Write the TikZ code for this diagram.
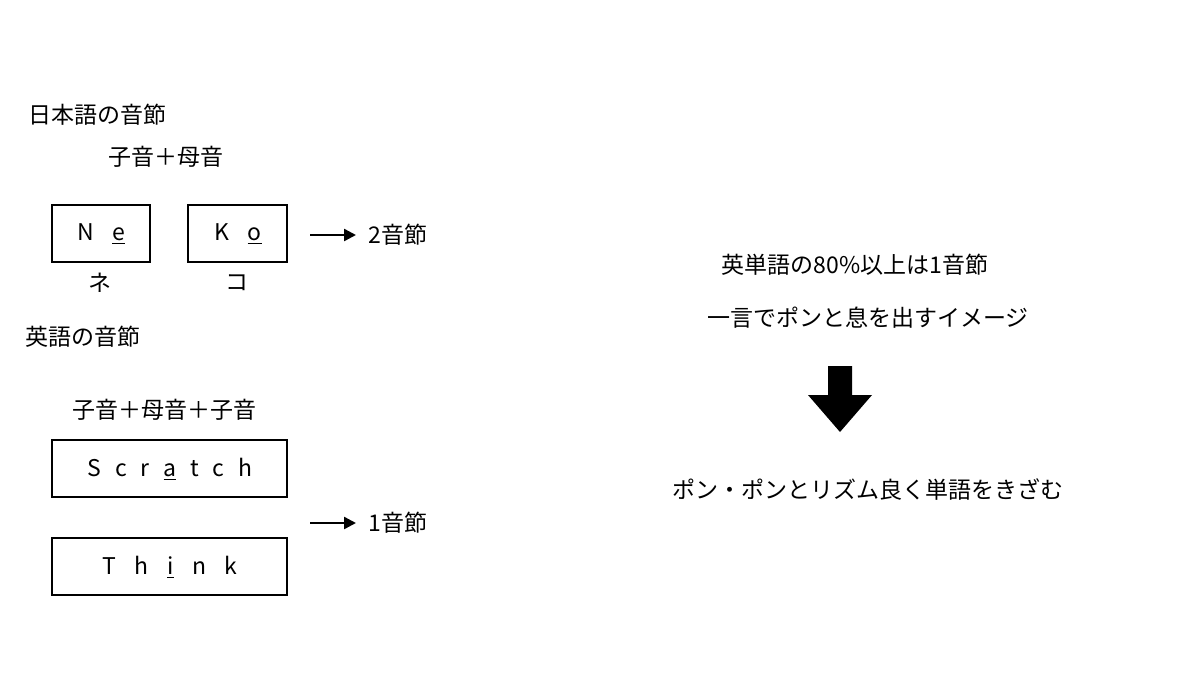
\documentclass[tikz,border=0pt]{standalone}
\usepackage{fontspec}
\setmainfont{Noto Sans CJK JP}
\usetikzlibrary{arrows.meta}
\begin{document}
\begin{tikzpicture}[x=0.5pt,y=-0.5pt,
  lbl/.style={inner sep=0pt,font=\fontsize{11.5}{13}\selectfont},
  box/.style={draw,line width=1.2pt,inner sep=0pt},
  arr/.style={-{Triangle[length=6pt,width=6pt]},line width=1.2pt}]
\useasboundingbox (0,0) rectangle (1200,675);
\node[lbl,anchor=west] (t1) at (28,115) {日本語の音節};
\node[lbl,anchor=west] (t2) at (108,157) {子音＋母音};
\draw[box] (52,205) rectangle (150,262);
\node[lbl] (ne) at (101,234) {N\hspace{0.8em}\underline{e}};
\draw[box] (188,205) rectangle (287,262);
\node[lbl] (ko) at (238,234) {K\hspace{0.8em}\underline{o}};
\coordinate (a1s) at (310,235); \coordinate (a1e) at (356,235);
\draw[arr] (a1s) -- (a1e);
\node[lbl,anchor=west] (s2) at (368,235) {2音節};
\node[lbl] (kne) at (100,283) {ネ};
\node[lbl] (kko) at (237,283) {コ};
\node[lbl,anchor=west] (t3) at (25,337) {英語の音節};
\node[lbl,anchor=west] (t4) at (72,410) {子音＋母音＋子音};
\draw[box] (52,440) rectangle (287,497);
\node[lbl] (sc) at (170,469) {S\hspace{0.6em}c\hspace{0.6em}r\hspace{0.6em}\underline{a}\hspace{0.6em}t\hspace{0.6em}c\hspace{0.6em}h};
\draw[box] (52,538) rectangle (287,595);
\node[lbl] (th) at (170,567) {T\hspace{0.8em}h\hspace{0.8em}\underline{i}\hspace{0.8em}n\hspace{0.8em}k};
\coordinate (a2s) at (310,523); \coordinate (a2e) at (356,523);
\draw[arr] (a2s) -- (a2e);
\node[lbl,anchor=west] (s1) at (368,523) {1音節};
\node[lbl] (r1) at (855,265) {英単語の80\%以上は1音節};
\node[lbl] (r2) at (868,318) {一言でポンと息を出すイメージ};
\fill (828,366) -- (852,366) -- (852,395) -- (872,395) -- (840,432) -- (808,395) -- (828,395) -- cycle;
\node[lbl] (r3) at (868,490) {ポン・ポンとリズム良く単語をきざむ};
\end{tikzpicture}
\end{document}
